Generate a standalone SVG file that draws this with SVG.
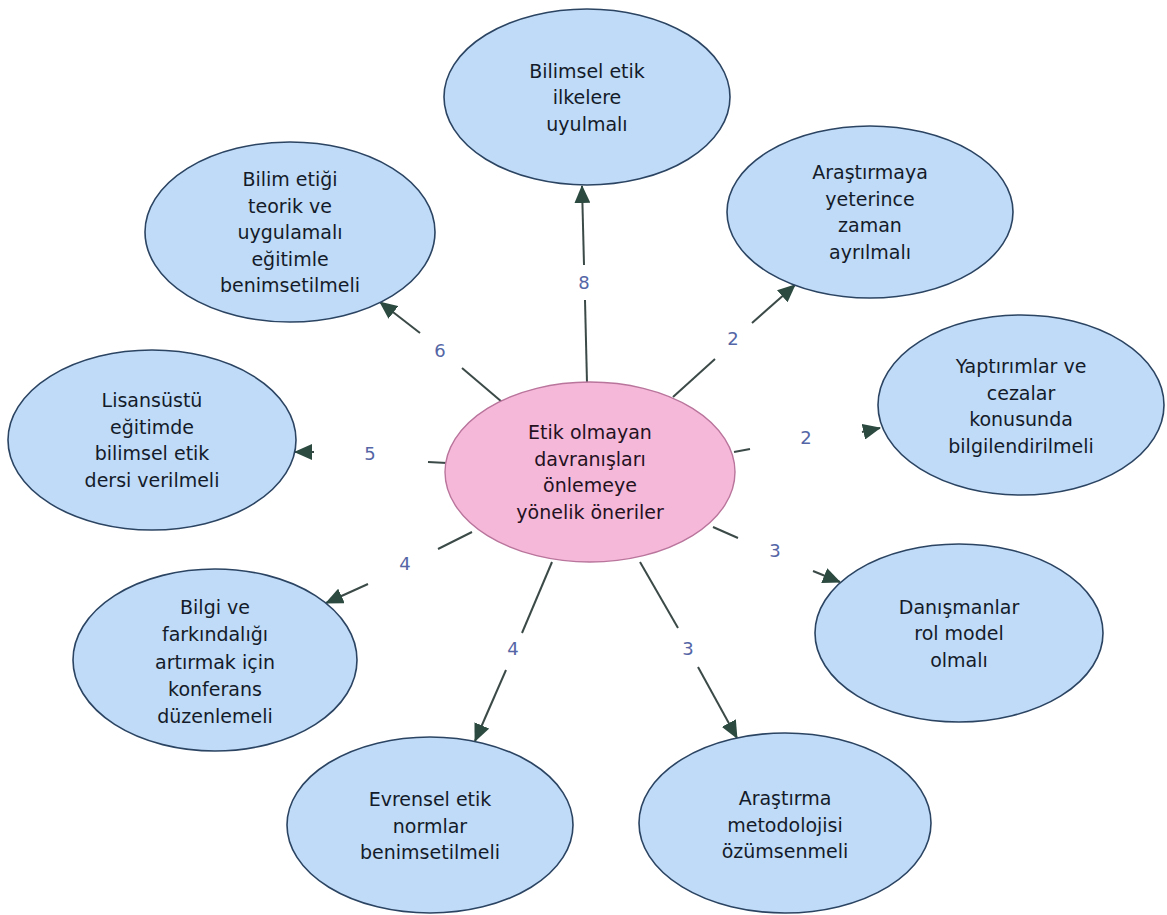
<svg xmlns="http://www.w3.org/2000/svg" width="1167" height="915" viewBox="0 0 1167 915">
<defs>
<marker id="arr" markerUnits="userSpaceOnUse" markerWidth="18" markerHeight="16" viewBox="0 0 18 16" refX="17" refY="8" orient="auto">
<path d="M0,0 L18,8 L0,16 z" fill="#2c4a3f"/>
</marker>
</defs>
<style>
.node{fill:#c0dbf7;stroke:#2b4462;stroke-width:1.6}
.center{fill:#f6b8d9;stroke:#b9759c;stroke-width:1.4}
.t{font-family:"DejaVu Sans",Verdana,sans-serif;font-size:19px;fill:#141b2a;text-anchor:middle}
.tc{fill:#24121f}
.c line{stroke:#3b4a47;stroke-width:2}
.c line.a{marker-end:url(#arr)}
.lbl{font-family:"DejaVu Sans",Verdana,sans-serif;font-size:18px;fill:#5566a6;text-anchor:middle}
</style>
<rect width="1167" height="915" fill="#ffffff"/>
<g id="connectors" class="c">
<line x1="587" y1="383" x2="585" y2="300"/><line class="a" x1="584" y1="265" x2="582" y2="186"/>
<line x1="502" y1="402" x2="462" y2="368"/><line class="a" x1="420" y1="333" x2="380" y2="302"/>
<line x1="673" y1="397" x2="715" y2="359"/><line class="a" x1="752" y1="323" x2="795" y2="285"/>
<line x1="447" y1="463" x2="428" y2="462"/><line class="a" x1="314" y1="452" x2="295" y2="452"/>
<line x1="734" y1="452" x2="750" y2="449"/><line class="a" x1="862" y1="432" x2="880" y2="428"/>
<line x1="713" y1="527" x2="738" y2="538"/><line class="a" x1="813" y1="571" x2="840" y2="582"/>
<line x1="640" y1="562" x2="678" y2="628"/><line class="a" x1="698" y1="667" x2="737" y2="738"/>
<line x1="552" y1="562" x2="522" y2="633"/><line class="a" x1="506" y1="670" x2="475" y2="741"/>
<line x1="472" y1="532" x2="438" y2="549"/><line class="a" x1="368" y1="584" x2="326" y2="603"/>
<text class="lbl" x="584" y="289">8</text>
<text class="lbl" x="440" y="357">6</text>
<text class="lbl" x="733" y="345">2</text>
<text class="lbl" x="370" y="460">5</text>
<text class="lbl" x="806" y="444">2</text>
<text class="lbl" x="775" y="557">3</text>
<text class="lbl" x="688" y="655">3</text>
<text class="lbl" x="513" y="655">4</text>
<text class="lbl" x="405" y="570">4</text>
</g>
<g id="center">
<ellipse class="center" cx="590" cy="472" rx="145" ry="90"/>
<text class="t tc" x="590" y="439">Etik olmayan<tspan x="590" dy="26.5">davranışları</tspan><tspan x="590" dy="26.5">önlemeye</tspan><tspan x="590" dy="26.5">yönelik öneriler</tspan></text>
</g>
<g id="n-bilimsel">
<ellipse class="node" cx="587" cy="97" rx="143" ry="88"/>
<text class="t" x="587" y="77.5">Bilimsel etik<tspan x="587" dy="26.5">ilkelere</tspan><tspan x="587" dy="26.5">uyulmalı</tspan></text>
</g>
<g id="n-zaman">
<ellipse class="node" cx="870" cy="212" rx="143" ry="86"/>
<text class="t" x="870" y="179">Araştırmaya<tspan x="870" dy="26.5">yeterince</tspan><tspan x="870" dy="26.5">zaman</tspan><tspan x="870" dy="26.5">ayrılmalı</tspan></text>
</g>
<g id="n-yaptirim">
<ellipse class="node" cx="1021" cy="405" rx="143" ry="90"/>
<text class="t" x="1021" y="373">Yaptırımlar ve<tspan x="1021" dy="26.5">cezalar</tspan><tspan x="1021" dy="26.5">konusunda</tspan><tspan x="1021" dy="26.5">bilgilendirilmeli</tspan></text>
</g>
<g id="n-danisman">
<ellipse class="node" cx="959" cy="633" rx="144" ry="89"/>
<text class="t" x="959" y="613.5">Danışmanlar<tspan x="959" dy="26.5">rol model</tspan><tspan x="959" dy="26.5">olmalı</tspan></text>
</g>
<g id="n-metodoloji">
<ellipse class="node" cx="785" cy="823" rx="146" ry="90"/>
<text class="t" x="785" y="805">Araştırma<tspan x="785" dy="26.5">metodolojisi</tspan><tspan x="785" dy="26.5">özümsenmeli</tspan></text>
</g>
<g id="n-evrensel">
<ellipse class="node" cx="430" cy="825" rx="143" ry="88"/>
<text class="t" x="430" y="806">Evrensel etik<tspan x="430" dy="26.5">normlar</tspan><tspan x="430" dy="26.5">benimsetilmeli</tspan></text>
</g>
<g id="n-bilgi">
<ellipse class="node" cx="215" cy="660" rx="142" ry="91"/>
<text class="t" x="215" y="614">Bilgi ve<tspan x="215" dy="27.3">farkındalığı</tspan><tspan x="215" dy="27.3">artırmak için</tspan><tspan x="215" dy="27.3">konferans</tspan><tspan x="215" dy="27.3">düzenlemeli</tspan></text>
</g>
<g id="n-lisansustu">
<ellipse class="node" cx="152" cy="440" rx="144" ry="90"/>
<text class="t" x="152" y="407">Lisansüstü<tspan x="152" dy="26.5">eğitimde</tspan><tspan x="152" dy="26.5">bilimsel etik</tspan><tspan x="152" dy="26.5">dersi verilmeli</tspan></text>
</g>
<g id="n-bilimetigi">
<ellipse class="node" cx="290" cy="232" rx="145" ry="90"/>
<text class="t" x="290" y="186">Bilim etiği<tspan x="290" dy="26.5">teorik ve</tspan><tspan x="290" dy="26.5">uygulamalı</tspan><tspan x="290" dy="26.5">eğitimle</tspan><tspan x="290" dy="26.5">benimsetilmeli</tspan></text>
</g>
</svg>
